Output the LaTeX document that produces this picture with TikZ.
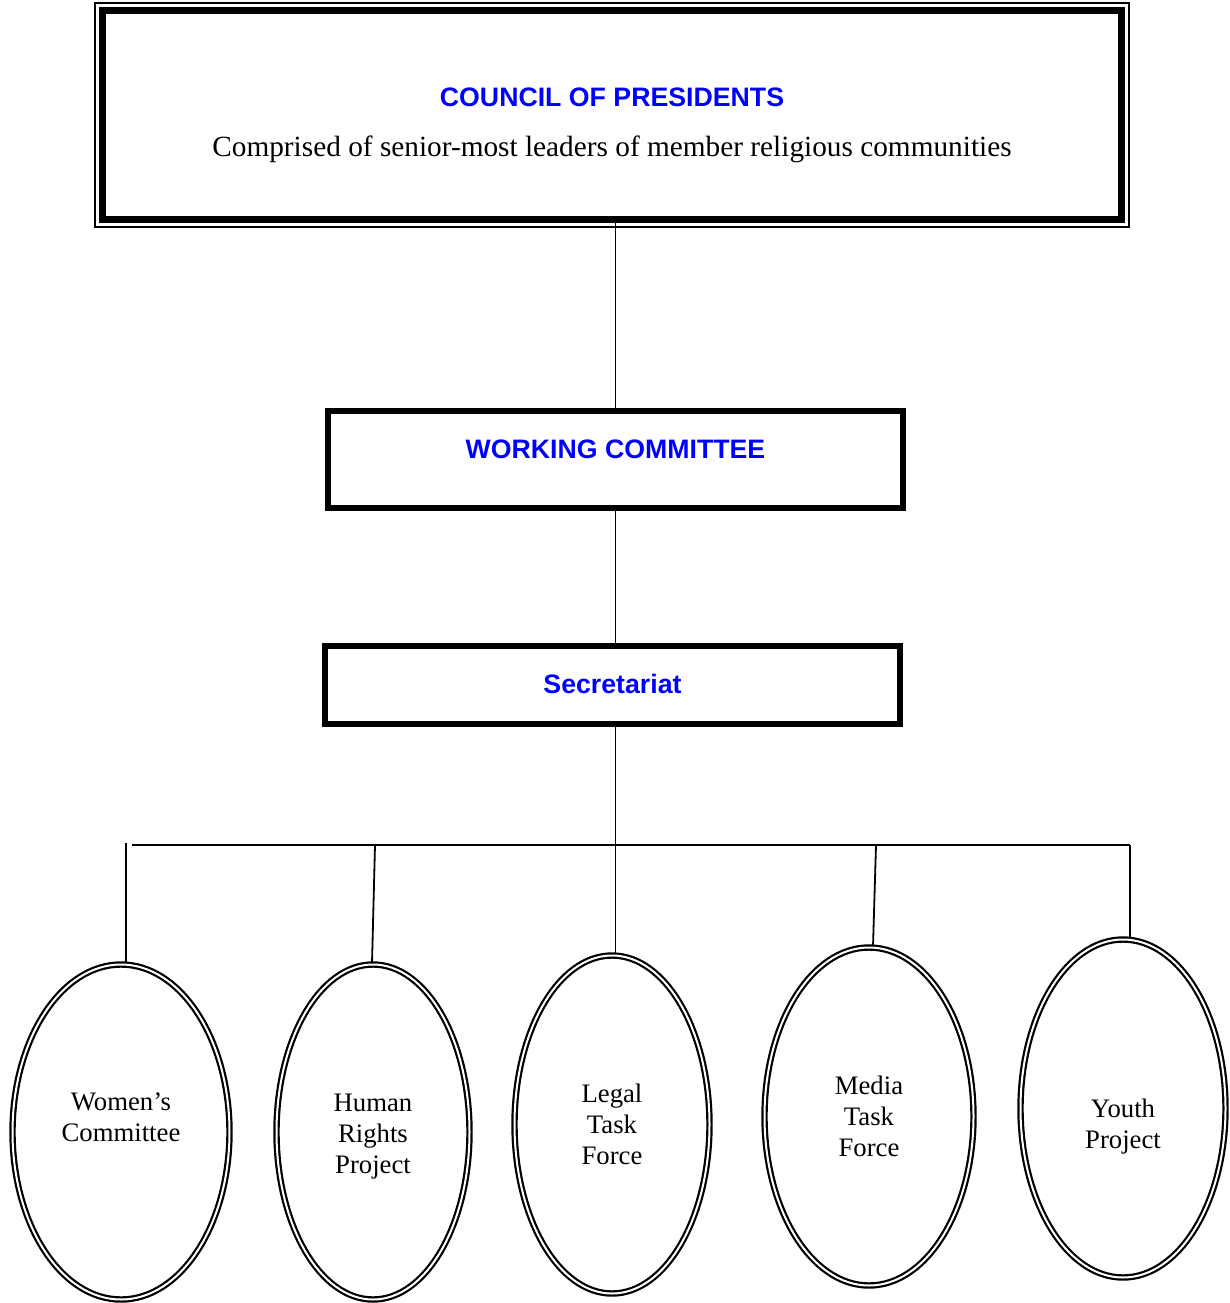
\documentclass[tikz,border=0pt]{standalone}
\usepackage{fontspec}
\setmainfont{Liberation Serif}
\setsansfont{Liberation Sans}
\usetikzlibrary{shapes.geometric}
\usetikzlibrary{positioning}

\begin{document}
\begin{tikzpicture}[x=1pt, y=-1pt,
      box/.style={rectangle, draw=black, line width=6pt, inner sep=0pt},
      title/.style={font=\sffamily\bfseries\fontsize{26.7}{31}\selectfont, text=blue, anchor=base, inner sep=0pt},
      note/.style={font=\fontsize{29.3}{34}\selectfont, anchor=base, inner sep=0pt},
      oval/.style={ellipse, draw=black, double=white, line width=2.2pt, double distance=2pt, inner sep=0pt},
      ovaltext/.style={font=\fontsize{26.7}{31}\selectfont, align=center, inner sep=0pt},
      link/.style={draw=black, line width=1.8pt}
      ]
      \useasboundingbox (0,0) rectangle (1230,1303);

      % Boxes
      \node[box, line width=7pt, minimum width=1019pt, minimum height=209pt] (council) at (612,115) {};
      \draw[line width=2pt] ([shift={(-4.5,-3.5)}]council.north west) rectangle ([shift={(3.5,3.5)}]council.south east);
      \node[title] (councilTitle) at (612,107) {COUNCIL OF PRESIDENTS};
      \node[note] (councilNote) at (612,157) {Comprised of senior-most leaders of member religious communities};

      \node[box, minimum width=575pt, minimum height=97pt] (wc) at (615.5,459.5) {};
      \node[title] (wcTitle) at (615.5,458) {WORKING COMMITTEE};

      \node[box, minimum width=575pt, minimum height=78pt] (secretariat) at (612.5,685) {};
      \node[title] (secTitle) at (612.5,693) {Secretariat};

      % Ovals
      \node[oval, minimum width=217pt, minimum height=335pt] (women) at (121,1132) {};
      \node[oval, minimum width=193pt, minimum height=335pt] (human) at (373,1132) {};
      \node[oval, minimum width=195pt, minimum height=338pt] (legal) at (612,1124.5) {};
      \node[oval, minimum width=209pt, minimum height=338pt] (media) at (869,1116.5) {};
      \node[oval, minimum width=205pt, minimum height=338pt] (youth) at (1123,1108.5) {};

      \node[ovaltext] (womenText) at ([yshift=15]women.center) {Women’s\\Committee};
      \node[ovaltext] (humanText) at ([yshift=-5]human.center) {Human\\Rights\\Project};
      \node[ovaltext] (legalText) at (legal.center) {Legal\\Task\\Force};
      \node[ovaltext] (mediaText) at (media.center) {Media\\Task\\Force};
      \node[ovaltext] (youthText) at ([yshift=-18]youth.center) {Youth\\Project};

      % Bus
      \coordinate (busW) at (126,843);
      \coordinate (busL) at (132,845);
      \coordinate (busH) at (375,845);
      \coordinate (busM) at (876,845);
      \coordinate (busY) at (1130,845);

      % Lines
      \draw[link] (wc.north |- council.south) -- (wc.north);
      \draw[link] (wc.south) -- (wc.south |- secretariat.north);
      \draw[link] (wc.south |- secretariat.south) -- (wc.south |- legal.north);
      \draw[link] (busL) -- (busY);
      \draw[link] (busW) -- (busW |- women.north);
      \draw[link] (busH) -- ([xshift=-1pt]human.north);
      \draw[link] (busM) -- ([xshift=4pt]media.north);
      \draw[link] (busY) -- (busY |- youth.north);

    \end{tikzpicture}
\end{document}
